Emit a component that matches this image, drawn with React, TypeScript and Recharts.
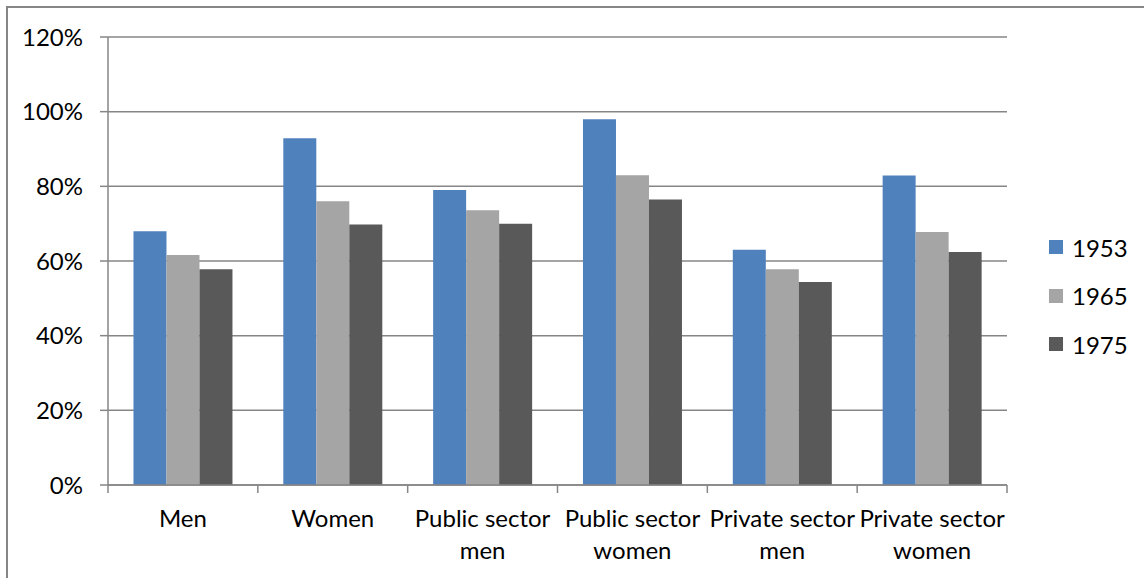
import React from "react"
import { BarChart, Bar, XAxis, YAxis, CartesianGrid, Legend } from "recharts"

const categories = ["Men", "Women", "Public sector men", "Public sector women", "Private sector men", "Private sector women"]
const y1953 = [68, 92.9, 79, 98, 63, 82.9]
const y1965 = [61.6, 76, 73.6, 83, 57.8, 67.8]
const y1975 = [57.8, 69.8, 70, 76.5, 54.4, 62.4]
const yTicks = [0, 20, 40, 60, 80, 100, 120]

const series = [
    { key: "1953", color: "#4F81BD" },
    { key: "1965", color: "#A5A5A5" },
    { key: "1975", color: "#595959" },
]

const data = categories.map((name, i) => ({
    name,
    "1953": y1953[i],
    "1965": y1965[i],
    "1975": y1975[i],
}))

const FONT = "Lato, 'Noto Sans', sans-serif"
const AXIS = "#868686"

function CategoryTick(props: any) {
    const { x, y, payload, index } = props
    const off = payload.offset ?? 75
    const words = String(payload.value).split(" ")
    const lines = words.length > 1 ? [words.slice(0, -1).join(" "), words[words.length - 1]] : [payload.value]
    return (
        <g>
            <line x1={x - off} x2={x - off} y1={y} y2={y + 8} stroke={AXIS} strokeWidth={1.5} />
            {index === categories.length - 1 && (
                <line x1={x + off} x2={x + off} y1={y} y2={y + 8} stroke={AXIS} strokeWidth={1.5} />
            )}
            <text x={x} y={y} textAnchor="middle" fill="#000" fontSize={24} fontFamily={FONT}>
                {lines.map((l, i) => (
                    <tspan key={i} x={x} dy={i === 0 ? 42 : 32}>{l}</tspan>
                ))}
            </text>
        </g>
    )
}

function LegendBox(props: any) {
    const items = props.payload || []
    return (
        <div style={{ width: 137, paddingLeft: 42, boxSizing: "border-box" }}>
            {items.map((it: any) => (
                <div key={it.value} style={{ display: "flex", alignItems: "center", height: 48.5 }}>
                    <span style={{ display: "inline-block", width: 14, height: 14, background: it.color, marginRight: 9 }} />
                    <span style={{ fontSize: 24, fontFamily: FONT, color: "#000" }}>{it.value}</span>
                </div>
            ))}
        </div>
    )
}

export default function App() {
    return (
        <div style={{ position: "absolute", left: 0, top: 0, width: 1144, height: 578, overflow: "hidden", background: "#fff" }}>
            <div style={{ position: "absolute", left: 6, top: 6, width: 1200, height: 700, borderTop: `2px solid ${AXIS}`, borderLeft: `2px solid ${AXIS}` }} />
            <BarChart
                width={1144}
                height={578}
                data={data}
                margin={{ top: 37, right: 0, bottom: 0, left: 0 }}
                barCategoryGap="17%"
                barGap={0}
            >
                <CartesianGrid vertical={false} stroke={AXIS} strokeWidth={1.5} />
                <XAxis
                    dataKey="name"
                    height={93}
                    tickLine={false}
                    tickSize={0}
                    tickMargin={0}
                    interval={0}
                    axisLine={{ stroke: AXIS, strokeWidth: 1.5 }}
                    tick={<CategoryTick />}
                />
                <YAxis
                    width={108}
                    domain={[0, 120]}
                    ticks={yTicks}
                    tickFormatter={(v: number) => `${v}%`}
                    tickSize={8}
                    tickMargin={17}
                    axisLine={{ stroke: AXIS, strokeWidth: 1.5 }}
                    tickLine={{ stroke: AXIS, strokeWidth: 1.5 }}
                    tick={{ fill: "#000", fontSize: 24, fontFamily: FONT }}
                />
                <Legend
                    layout="vertical"
                    align="right"
                    verticalAlign="middle"
                    content={<LegendBox />}
                    wrapperStyle={{ top: 223, right: 0, width: 137 }}
                />
                {series.map(s => (
                    <Bar key={s.key} dataKey={s.key} fill={s.color} isAnimationActive={false} />
                ))}
            </BarChart>
        </div>
    )
}
